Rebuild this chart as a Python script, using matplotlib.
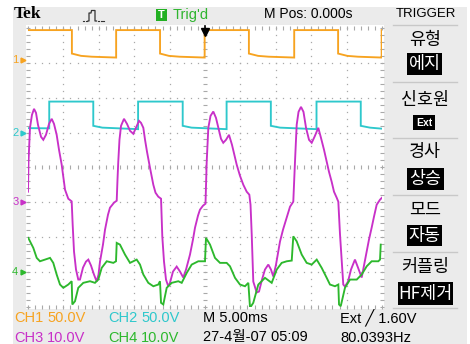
import matplotlib
matplotlib.use('Agg')
import matplotlib.pyplot as plt
import numpy as np
from matplotlib.patches import Rectangle
from matplotlib.lines import Line2D
from matplotlib.transforms import blended_transform_factory
from matplotlib import font_manager

# ---------------- data (time in ms, values in volts) ----------------
ch1_t = [0.0, 6.2, 6.2, 7.5, 9.0, 12.45, 12.45, 18.65, 18.65, 19.9, 21.4, 24.95, 24.95,
         31.2, 31.2, 32.5, 34.0, 37.6, 37.6, 43.8, 43.8, 45.1, 46.6, 49.95, 49.95]
ch1_v = [43.0, 43.0, 9.3, 6.0, 4.8, 3.6, 43.0, 43.0, 9.3, 6.0, 4.8, 3.6, 43.0,
         43.0, 9.3, 6.0, 4.8, 3.6, 43.0, 43.0, 9.3, 6.0, 4.8, 3.6, 43.0]

ch2_t = [0.0, 3.0, 3.0, 9.22, 9.22, 10.5, 15.55, 15.55, 21.85, 21.85, 23.1, 28.05, 28.05,
         34.3, 34.3, 35.6, 40.75, 40.75, 47.0, 47.0, 48.3, 50.0]
ch2_v = [6.3, 6.0, 44.4, 44.4, 9.6, 7.0, 4.8, 44.4, 44.4, 9.6, 7.0, 4.8, 44.4,
         44.4, 9.6, 7.0, 4.8, 44.4, 44.4, 9.6, 7.0, 5.5]

ch3_t = [0.00, 0.07, 0.28, 0.56, 0.85, 1.13, 1.41, 1.84, 2.16, 2.54, 2.97, 3.35, 3.67,
         4.05, 4.38, 4.76, 5.01, 5.23, 5.69, 6.17, 6.31, 6.50, 6.78, 7.10, 7.34, 7.77,
         8.19, 8.52, 8.90, 9.32, 9.70, 9.96, 10.17, 10.59, 10.88, 11.30, 11.58, 12.15,
         12.53,
         12.64, 12.75, 12.92, 13.14, 13.56, 13.98, 14.41, 14.87, 15.25, 15.68, 15.96,
         16.29, 16.53, 16.81, 17.23, 17.70, 18.01, 18.40, 18.79, 18.97, 19.21, 19.49,
         19.82, 20.06, 20.48, 21.00, 21.47, 21.93, 22.32, 22.88, 23.30, 23.59, 24.01,
         24.29, 24.72, 25.07, 25.24, 25.47, 25.78, 26.17, 26.55, 26.88, 27.26, 27.58,
         27.97, 28.39, 28.81, 29.48, 29.94, 30.41, 30.89, 31.26, 31.43, 31.60, 31.82,
         32.30, 32.63, 33.05, 33.47, 33.94, 34.32, 34.65, 35.03, 35.59, 36.02, 36.54,
         37.01, 37.47, 37.71, 37.95, 38.21, 38.56, 38.91, 39.27, 39.69, 40.07, 40.47,
         41.00, 41.38, 41.81, 42.19, 42.51, 42.89, 43.22, 43.60, 43.83, 44.07, 44.53,
         44.77, 45.20, 45.62, 46.18, 46.61, 47.13, 47.46, 47.84, 48.16, 48.54, 48.87,
         49.25, 49.72, 50.00]
ch3_v = [3.01, 11.60, 21.35, 25.07, 26.79, 25.64, 22.21, 18.77, 17.91, 19.34, 22.49, 23.93,
         22.49, 19.34, 15.04, 10.74, 7.02, 3.58, 1.00, 0.23, -6.45, -14.18, -19.34, -22.21,
         -22.21, -18.77, -17.05, -16.48, -18.19, -20.77, -22.78, -20.77, -17.05, -12.18,
         -7.88, -3.58, -1.58, -0.14, 0.43,
         6.45, 11.60, 17.91, 21.92, 23.93, 22.49, 20.49, 19.63, 21.35, 23.35, 22.78, 21.35,
         17.91, 14.47, 9.89, 5.01, 2.72, 1.58, 1.00, -9.89, -17.05, -22.21, -24.21, -23.07,
         -19.91, -18.48, -19.91, -21.63, -19.34, -15.04, -10.74, -7.31, -3.87, -2.15, -1.00,
         -0.43, 11.60, 21.35, 24.78, 26.02, 24.21, 21.35, 18.19, 17.05, 17.91, 19.34, 16.48,
         10.74, 7.59, 5.01, 3.01, 2.15, -0.72, -9.31, -22.78, -25.93, -25.64, -22.21, -19.34,
         -17.91, -19.34, -21.35, -17.91, -11.32, -7.88, -4.44, -1.29, 0.14, 11.60, 22.21,
         25.93, 27.36, 25.93, 21.35, 17.91, 17.05, 18.77, 21.35, 18.48, 15.04, 11.60, 8.74,
         5.87, 3.01, 1.29, 0.14, -9.31, -23.64, -24.21, -22.78, -19.34, -16.48, -18.77,
         -21.63, -18.19, -14.18, -10.74, -7.31, -4.15, -0.72, 0.72, 1.29]

ch4_t = [0.04, 0.75, 1.23, 1.69, 2.40, 3.11, 3.57, 4.05, 4.52, 4.99, 5.69, 6.17, 6.26, 6.64,
         7.10, 7.81, 8.76, 9.46, 9.93, 10.41, 11.12, 12.05, 12.43, 12.53, 12.99, 13.70, 14.41,
         15.35, 15.82, 16.29, 16.99, 17.70, 18.40, 18.64, 18.79, 19.11, 19.59, 20.30, 21.23,
         21.71, 22.42, 23.12, 24.05, 25.00, 25.14, 25.71, 26.41, 27.12, 28.06, 28.53, 29.24,
         29.94, 30.65, 31.12, 31.36, 31.82, 32.53, 33.47, 34.42, 35.13, 35.83, 36.54, 37.25,
         37.47, 37.95, 38.66, 39.36, 40.07, 40.78, 41.48, 42.19, 42.65, 43.36, 43.83, 43.93,
         44.17, 44.77, 45.48, 46.43, 47.13, 47.84, 48.54, 49.48, 49.72, 49.82]
ch4_v = [9.74, 6.88, 4.01, 3.04, 3.52, 4.01, 2.58, -0.77, -3.64, -4.58, -3.64, -2.69, -9.37,
         -8.42, -4.58, -3.15, -2.69, -3.15, -2.21, 1.15, 3.04, 2.58, 3.04, 8.31, 7.82, 4.96,
         2.58, 3.52, 2.09, -0.77, -3.15, -4.13, -3.64, -2.69, -8.88, -9.37, -4.58, -3.15,
         -2.69, -3.15, -0.29, 2.09, 3.04, 3.04, 9.74, 7.82, 4.01, 2.58, 2.58, 1.60, -1.72,
         -3.64, -4.13, -3.15, -10.32, -8.88, -3.64, -1.72, -3.15, 0.66, 2.58, 3.04, 3.24,
         10.20, 8.77, 4.96, 2.58, 2.09, 3.52, 1.15, -1.72, -3.64, -4.13, -3.64, -9.37, -9.86,
         -4.58, -2.21, -2.21, -0.77, 1.60, 3.04, 3.04, 3.52, 7.82]

ch_names = ['CH1', 'CH2', 'CH3', 'CH4']
ch_scale_labels = ['50.0V', '50.0V', '10.0V', '10.0V']
ch_volts_per_div = [50.0, 50.0, 10.0, 10.0]
ch_offsets_div = [3.08, 1.0, -1.0, -3.0]
ch_colors = ['#f7a320', '#2ec8cc', '#c830c8', '#2db82d']

menu_labels = ['유형', '신호원', '경사', '모드', '커플링']
menu_values = ['에지', 'Ext', '상승', '자동', 'HF제거']

# ---------------- layout ----------------
W, H = 470, 344
fig = plt.figure(figsize=(W / 100, H / 100), dpi=100)
fig.patch.set_facecolor('white')

def fx(px):
    return px / W

def fy(py):
    return 1 - py / H

names = {f.name for f in font_manager.fontManager.ttflist}
NARROW = 'Liberation Sans Narrow' if 'Liberation Sans Narrow' in names else 'Liberation Sans'
KR = 'Noto Sans CJK KR'

def frect(x0, y0, x1, y1, color, z=0):
    fig.patches.append(Rectangle((fx(x0), fy(y1)), fx(x1) - fx(x0), fy(y0) - fy(y1),
                                 transform=fig.transFigure, facecolor=color,
                                 edgecolor='none', zorder=z))

def fline(xs, ys, color, lw=1.0, z=2, ls='-'):
    fig.add_artist(Line2D([fx(v) for v in xs], [fy(v) for v in ys], color=color, lw=lw,
                          ls=ls, transform=fig.transFigure, zorder=z))

def ftext(x, y, s, color='black', size=10, ha='left', family=None, weight='normal', z=5):
    fig.text(fx(x), fy(y), s, color=color, fontsize=size, ha=ha, va='center',
             family=family or [NARROW, 'DejaVu Sans'], weight=weight, zorder=z)

# screen background
frect(13, 7, 467, 344, '#ebebeb', -2)
frect(26, 25, 384, 309, 'white', -1)

ax = fig.add_axes([fx(28), fy(306.7), fx(382) - fx(28), fy(28) - fy(306.7)])
ax.set_zorder(3)
ax.set_xlim(0, 50)
ax.set_ylim(-4, 4)
ax.set_facecolor('none')
for s in ax.spines.values():
    s.set_visible(False)
ax.set_xticks([])
ax.set_yticks([])

# graticule
gc = '#a9a9a9'
fine_t = np.arange(0, 50.01, 1.0)
fine_y = np.arange(-4, 4.001, 0.2)
for xv in range(0, 51, 5):
    if xv in (0, 25, 50):
        ax.plot(np.full_like(fine_y, xv), fine_y, ls='none', marker='_', ms=3.5, mew=0.8,
                color=gc, clip_on=False, zorder=1)
    else:
        ax.plot(np.full_like(fine_y, xv), fine_y, ls='none', marker='s', ms=0.9, mew=0,
                color=gc, clip_on=False, zorder=1)
for yv in range(-4, 5):
    if yv in (-4, 0, 4):
        ax.plot(fine_t, np.full_like(fine_t, yv), ls='none', marker='|', ms=3.5, mew=0.8,
                color=gc, clip_on=False, zorder=1)
    else:
        ax.plot(fine_t, np.full_like(fine_t, yv), ls='none', marker='s', ms=0.9, mew=0,
                color=gc, clip_on=False, zorder=1)

# traces
series = [(ch1_t, ch1_v), (ch2_t, ch2_v), (ch3_t, ch3_v), (ch4_t, ch4_v)]
for i in [0, 1, 3, 2]:
    t, v = series[i]
    y = ch_offsets_div[i] + np.asarray(v) / ch_volts_per_div[i]
    ax.plot(t, y, color=ch_colors[i], lw=1.35, zorder=3 + i, solid_joinstyle='miter')

# ground markers
bt = blended_transform_factory(ax.transAxes, ax.transData)
for i in range(4):
    ax.text(-0.045, ch_offsets_div[i], str(i + 1), transform=bt, color=ch_colors[i],
            fontsize=8, ha='left', va='center', family=[NARROW, 'DejaVu Sans'], clip_on=False)
    ax.plot([-0.013], [ch_offsets_div[i]], transform=bt, marker='>', ms=3.5,
            color=ch_colors[i], clip_on=False)

# trigger position arrow
ax.plot([25, 25], [4.05, 3.95], color='black', lw=1.2, clip_on=False, zorder=10)
ax.plot([25], [3.88], marker='v', ms=5.5, color='black', clip_on=False, zorder=10)

# ---------------- header ----------------
ftext(14, 14.5, 'Tek', size=12.5, family=['Liberation Serif'], weight='bold')
# acquisition icon
fline([83, 84], [21, 21], '#333333', lw=0.8)
fline([85.5, 86.5], [21, 21], '#333333', lw=0.8)
fline([88, 89, 89, 91, 91.5, 95, 95, 96.5], [21, 21, 13, 13, 10.5, 10.5, 21, 21], '#333333', lw=0.9)
fline([98, 99], [21, 21], '#333333', lw=0.8)
fline([100.5, 101.5], [21, 21], '#333333', lw=0.8)
fline([103, 104], [21, 21], '#333333', lw=0.8)
frect(155.5, 9, 167, 21, '#22b022', 3)
ftext(161.3, 15, 'T', color='white', size=8, ha='center', weight='bold')
ftext(173, 14.5, "Trig'd", color='#2fb52f', size=10.5)
ftext(308, 14.5, 'M Pos: 0.000s', size=10, ha='center')
ftext(426, 14, 'TRIGGER', size=9.5, ha='center')

# ---------------- right menu ----------------
for ysep in [25, 82, 138, 195, 252, 308]:
    fline([393, 457], [ysep, ysep], '#c8c8c8', lw=1.0)
label_y = [40, 100, 152, 210, 267]
value_boxes = [(407, 53, 442, 75), (413, 115, 435, 130), (407, 168, 444, 190),
               (407, 225, 442, 246), (398, 282, 453, 305)]
for lab, ly, val, box in zip(menu_labels, label_y, menu_values, value_boxes):
    ftext(425, ly, lab, size=12.5, ha='center', family=[KR])
    x0, y0, x1, y1 = box
    frect(x0, y0, x1, y1, 'black', 3)
    vs = 7.5 if val == 'Ext' else 12.5
    ftext((x0 + x1) / 2, (y0 + y1) / 2, val, color='white', size=vs, ha='center',
          family=[NARROW, KR] if val in ('Ext',) else [KR], weight='bold' if val == 'Ext' else 'normal')

# ---------------- bottom status ----------------
row_y = [318, 337.5]
for i in range(4):
    ry = row_y[i // 2]
    xc = 14 if i % 2 == 0 else 108
    ftext(xc, ry, ch_names[i], color=ch_colors[i], size=10.5)
    ftext(xc + 33, ry, ch_scale_labels[i], color=ch_colors[i], size=10.5)
ftext(203, row_y[0], 'M 5.00ms', size=10.5)
ftext(340, row_y[0], 'Ext \u2571 1.60V', size=10.5, family=[NARROW, 'DejaVu Sans'])
ftext(203, row_y[1], '27-4월-07 05:09', size=10.5, family=[NARROW, KR])
ftext(340, row_y[1], '80.0393Hz', size=10.5)

fig.savefig('out.png', dpi=100, facecolor=fig.get_facecolor())
